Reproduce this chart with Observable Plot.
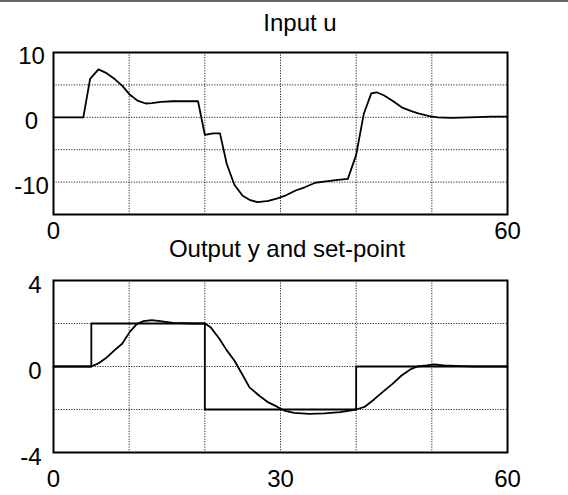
<!DOCTYPE html>
<html>
<head>
<meta charset="utf-8">
<script src="https://cdn.jsdelivr.net/npm/d3@7"></script>
<script src="https://cdn.jsdelivr.net/npm/@observablehq/plot@0.6"></script>
<style>
  html, body { margin: 0; padding: 0; background: #fff; }
  #root { position: relative; width: 568px; height: 495px; overflow: hidden; font-family: "Liberation Sans", Arial, Helvetica, sans-serif; }
  .rule { position: absolute; left: 0; top: 0; width: 568px; height: 0; border-top: 2px solid #666; }
  .title { position: absolute; font-size: 24px; line-height: 24px; white-space: nowrap; transform: translateX(-50%); color: #000; }
  .panel { position: absolute; left: 0; }
</style>
</head>
<body>
<div id="root">
  <div class="rule"></div>
  <div class="title" style="left:300px; top:11px;">Input u</div>
  <div class="title" style="left:287px; top:237px;">Output y and set-point</div>
  <div id="top" class="panel" style="top:0px;"></div>
  <div id="bottom" class="panel" style="top:245px;"></div>
</div>
<script>
// ---- data ----
const tU = [0, 3.94, 4.84, 5.94, 6.87, 8.09, 9.1, 10.1, 11.1, 12.2, 13.0, 14.2, 15.8, 19.1, 20.0, 21.1, 22.0, 22.9, 23.9, 25.0, 26.0, 27.0, 28.4, 29.6, 30.8, 32.0, 33.2, 34.6, 36.0, 37.6, 38.9, 40.0, 41.0, 42.0, 42.7, 43.7, 44.9, 46.1, 47.2, 48.2, 49.8, 50.8, 52.6, 55.0, 57.9, 60];
const uVals = [0, 0, 5.94, 7.4, 6.9, 5.9, 4.85, 3.47, 2.57, 2.13, 2.18, 2.38, 2.48, 2.48, -2.72, -2.48, -2.48, -7.2, -10.4, -12.1, -12.8, -13.1, -12.9, -12.5, -12.0, -11.3, -10.8, -10.1, -9.9, -9.65, -9.5, -5.8, 0.5, 3.7, 3.86, 3.37, 2.48, 1.49, 1.0, 0.6, 0.15, 0, -0.1, 0, 0.1, 0.1];

const tY = [0, 5, 6.0, 7.0, 8.05, 9.07, 10.08, 11.0, 11.9, 13.0, 14.1, 15.8, 18.2, 20, 20.8, 21.9, 22.9, 23.9, 24.9, 25.9, 27.2, 28.4, 29.6, 30.5, 31.8, 33.8, 35.8, 37.9, 40.0, 41.1, 42.4, 43.6, 44.8, 46.0, 47.3, 48.1, 49.3, 50.3, 51.6, 53.8, 55.8, 60];
const yVals = [0, 0, 0.16, 0.41, 0.75, 1.06, 1.61, 1.97, 2.11, 2.16, 2.11, 2.03, 2.0, 2.0, 1.81, 1.3, 0.75, 0.28, -0.34, -0.97, -1.36, -1.67, -1.88, -2.05, -2.16, -2.2, -2.18, -2.12, -2.0, -1.88, -1.52, -1.16, -0.81, -0.42, -0.11, 0, 0.05, 0.1, 0.05, 0.02, 0, 0];

const tSP = [0, 5, 20, 40, 60];
const spVals = [0, 2, -2, 0, 0];

const xGrid = [10, 20, 30, 40, 50];
const uGrid = [5, 0, -5, -10];
const yGrid = [2, 0, -2];
const xTicksTop = [0, 60];
const xTicksBottom = [0, 30, 60];
const uTicks = [10, 0, -10];
const yTicks = [4, 0, -4];

// ---- tables ----
const uData = tU.map((t, i) => ({t, v: uVals[i]}));
const yData = tY.map((t, i) => ({t, v: yVals[i]}));
const spData = tSP.map((t, i) => ({t, v: spVals[i]}));

const font = "'Liberation Sans', Arial, Helvetica, sans-serif";
const gridStyle = {stroke: "#000", strokeWidth: 1, strokeDasharray: "1.2,1.4", strokeOpacity: 0.85};
const plain = d => String(d); // hyphen-minus, as in the original

const topPlot = Plot.plot({
  width: 568, height: 245,
  marginLeft: 53, marginRight: 61, marginTop: 52, marginBottom: 31,
  style: {fontFamily: font, fontSize: "24px", background: "transparent", color: "#000"},
  x: {domain: [0, 60]},
  y: {domain: [-15, 10]},
  marks: [
    Plot.ruleY(uGrid, gridStyle),
    Plot.ruleX(xGrid, gridStyle),
    Plot.line(uData, {x: "t", y: "v", stroke: "#000", strokeWidth: 1.8}),
    Plot.frame({stroke: "#000", strokeWidth: 2}),
    Plot.axisX({ticks: xTicksTop, tickFormat: plain, tickSize: 0, tickPadding: 7, label: null, fontSize: 24}),
    Plot.axisY({ticks: uTicks, tickFormat: plain, tickSize: 0, tickPadding: 22, textAnchor: "middle", dy: 4, label: null, fontSize: 24})
  ]
});
document.getElementById("top").appendChild(topPlot);

const bottomPlot = Plot.plot({
  width: 568, height: 250,
  marginLeft: 53, marginRight: 61, marginTop: 35, marginBottom: 43,
  style: {fontFamily: font, fontSize: "24px", background: "transparent", color: "#000"},
  x: {domain: [0, 60]},
  y: {domain: [-4, 4]},
  marks: [
    Plot.ruleY(yGrid, gridStyle),
    Plot.ruleX(xGrid, gridStyle),
    Plot.line(spData, {x: "t", y: "v", curve: "step-after", stroke: "#000", strokeWidth: 1.8}),
    Plot.line(yData, {x: "t", y: "v", stroke: "#000", strokeWidth: 1.8}),
    Plot.frame({stroke: "#000", strokeWidth: 2}),
    Plot.axisX({ticks: xTicksBottom, tickFormat: plain, tickSize: 0, tickPadding: 17, label: null, fontSize: 24}),
    Plot.axisY({ticks: yTicks, tickFormat: plain, tickSize: 0, tickPadding: 12, dy: 5, label: null, fontSize: 24})
  ]
});
document.getElementById("bottom").appendChild(bottomPlot);
</script>
</body>
</html>
